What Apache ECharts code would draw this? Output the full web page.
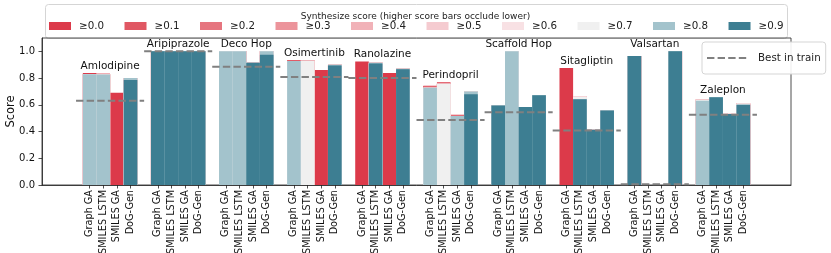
<!DOCTYPE html>
<html><head><meta charset="utf-8">
<script src="https://cdn.jsdelivr.net/npm/echarts@6/dist/echarts.min.js"></script>
<style>html,body{margin:0;padding:0;background:#fff}#c{width:831px;height:253px}</style>
</head><body><div id="c"></div>
<script>
// ---------- DATA ----------
const targets = ['Amlodipine','Aripiprazole','Deco Hop','Osimertinib','Ranolazine','Perindopril','Scaffold Hop','Sitagliptin','Valsartan','Zaleplon'];
const methods = ['Graph GA','SMILES LSTM','SMILES GA','DoG-Gen'];
const thresholdLabels = ['≥0.0','≥0.1','≥0.2','≥0.3','≥0.4','≥0.5','≥0.6','≥0.7','≥0.8','≥0.9'];
const bestInTrain = [0.63, 1.0, 0.885, 0.808, 0.80, 0.487, 0.545, 0.407, 0.005, 0.525];
// best score per bar (target-major, method order as above) for each synthesize-score threshold
const scoreGe00 = [.838,.832,.69,.80, 1,1,1,1, 1,1,.915,1, .933,.935,.86,.90, .925,.915,.838,.87, .743,.768,.525,.70, .594,1,.584,.672, .875,.666,.413,.557, .965,0,0,1, .638,.657,.537,.609];
const scoreGe01 = [.830,.832,0,.80, 1,1,1,1, 1,1,.915,1, .933,.930,0,.90, 0,.915,0,.87, .740,.758,.522,.70, .594,1,.584,.672, 0,.666,.413,.557, .965,0,0,1, .638,.657,.537,.609];
const scoreGe02 = [.828,.826,0,.80, 1,1,1,1, 1,1,.915,1, .928,.930,0,.90, 0,.915,0,.87, .737,.758,.522,.70, .594,1,.584,.672, 0,.666,.413,.557, .965,0,0,1, .638,.657,.537,.609];
const scoreGe03 = [.828,.826,0,.80, 1,1,1,1, 1,1,.915,1, .928,.930,0,.90, 0,.915,0,.87, .728,.758,.517,.70, .594,1,.584,.672, 0,.666,.413,.557, .965,0,0,1, .638,.657,.537,.609];
const scoreGe04 = [.828,.826,0,.80, 1,1,1,1, 1,1,.915,1, .928,.930,0,.90, 0,.915,0,.87, .728,.758,.517,.70, .594,1,.584,.672, 0,.666,.413,.557, .965,0,0,1, .638,.657,.537,.609];
const scoreGe05 = [.828,.826,0,.80, 1,1,1,1, 1,1,.915,1, .928,.930,0,.90, 0,.915,0,.87, .728,.758,.517,.70, .594,1,.584,.672, 0,.666,.413,.557, .965,0,0,1, .638,.657,.537,.609];
const scoreGe06 = [.828,.826,0,.80, 1,1,1,1, 1,1,.915,1, .928,.930,0,.90, 0,.915,0,.87, .728,.758,.517,.70, .594,1,.584,.672, 0,.662,.413,.557, .965,0,0,1, .638,.657,.537,.609];
const scoreGe07 = [.828,.826,0,.80, 1,1,1,1, 1,1,.915,1, .928,.930,0,.90, 0,.915,0,.87, .728,.758,.517,.70, .594,1,.584,.672, 0,.658,.413,.557, .965,0,0,1, .638,.657,.532,.609];
const scoreGe08 = [.828,.826,0,.80, 1,1,1,1, 1,1,.915,1, .928,0,0,.90, 0,.915,0,.87, .728,0,.517,.70, .594,1,.584,.672, 0,.642,.413,.557, .965,0,0,1, .631,.657,.532,.601];
const scoreGe09 = [0,0,0,.785, 1,1,1,1, 0,0,.915,.975, 0,0,0,.895, 0,.91,0,.866, 0,0,0,.68, .594,0,.584,.672, 0,.642,.413,.557, .965,0,0,1, 0,.657,.532,.601];
const scoresByThreshold = [scoreGe00,scoreGe01,scoreGe02,scoreGe03,scoreGe04,scoreGe05,scoreGe06,scoreGe07,scoreGe08,scoreGe09];

// ---------- STYLE ----------
const colors = ['#dc3a4a','#e05763','#e6757f','#ec949b','#f1b2b8','#f5cbd0','#f8e1e4','#f0f0f0','#a3c3cc','#3d7e92'];
const FONT = 'DejaVu Sans';
const PAD = 3, GAP = 1;
const nSlots = PAD*2 + targets.length*methods.length + (targets.length-1)*GAP;

// category slots
const cats = [];
const slotOf = [];
for (let i=0;i<PAD;i++) cats.push('');
targets.forEach((t,g)=>{
  methods.forEach((m,j)=>{ slotOf.push(cats.length); cats.push(m); });
  if (g < targets.length-1) for (let k=0;k<GAP;k++) cats.push('');
});
for (let i=0;i<PAD;i++) cats.push('');

const barSeries = scoresByThreshold.map((arr,ti)=>{
  const d = new Array(nSlots).fill(null);
  arr.forEach((v,k)=>{ d[slotOf[k]] = v; });
  return {
    type:'bar', name: thresholdLabels[ti], data:d, xAxisIndex:0, yAxisIndex:0,
    barWidth:'100%', barGap:'-100%', itemStyle:{color:colors[ti]},
    emphasis:{disabled:true}, animation:false
  };
});

// best-in-train dashed segments
const bestData = [];
bestInTrain.forEach((v,g)=>{
  const s0 = slotOf[g*methods.length], s1 = slotOf[g*methods.length+methods.length-1]+1;
  bestData.push([s0-0.5, v],[s1+0.5, v],[s1+0.5,'-']);
});

// target labels
const labelData = targets.map((t,g)=>{
  let mx = 0;
  for (let j=0;j<methods.length;j++) scoresByThreshold.forEach(a=>{ mx = Math.max(mx, a[g*methods.length+j]); });
  const s0 = slotOf[g*methods.length], s1 = slotOf[g*methods.length+methods.length-1]+1;
  return {value:[(s0+s1)/2, mx+0.01], name:t};
});

const yTicks = [0,0.2,0.4,0.6,0.8,1.0];

const chart = echarts.init(document.getElementById('c'), null, {renderer:'canvas'});
chart.setOption({
  animation:false,
  textStyle:{fontFamily:FONT},
  title:{text:'Synthesize score (higher score bars occlude lower)', left:'center', top:7,
    textStyle:{fontFamily:FONT, fontSize:9, fontWeight:'normal', color:'#222'}},
  graphic:[{type:'rect', z:-10, shape:{x:45.5, y:4.5, width:742, height:34, r:3},
    style:{fill:'#fff', stroke:'#d5d5d5', lineWidth:1}}],
  legend:[{
    data:thresholdLabels, left:49, top:21, padding:0, itemGap:20.5,
    itemWidth:22, itemHeight:8, icon:'rect',
    textStyle:{fontFamily:FONT, fontSize:10.3, color:'#222', padding:[0,0,0,3]},
    selectedMode:false
  },{
    data:['Best in train'], left:702, top:42, padding:[11,5,11,4],
    itemWidth:41, itemHeight:10, borderColor:'#d5d5d5', borderWidth:1, borderRadius:3,
    backgroundColor:'rgba(255,255,255,0.9)',
    itemStyle:{opacity:0},
    textStyle:{fontFamily:FONT, fontSize:10.3, color:'#222', padding:[8,0,0,5]},
    selectedMode:false
  }],
  grid:{left:42, right:40, top:38, bottom:68, show:true, borderColor:'#222', borderWidth:0.8,
    containLabel:false, outerBoundsMode:'none'},
  xAxis:[{
    type:'category', data:cats, boundaryGap:true,
    axisLine:{show:true, lineStyle:{color:'#222', width:0.8}},
    axisTick:{show:true, alignWithLabel:true, length:3.5, lineStyle:{color:'#222', width:0.8},
      interval:(i,v)=> v!==''},
    axisLabel:{interval:0, rotate:90, fontSize:9.7, color:'#111', margin:5, fontFamily:FONT},
    splitLine:{show:false}
  },{
    type:'value', min:0, max:nSlots, show:false
  }],
  yAxis:{
    type:'value', min:0, max:1.1,
    name:'Score', nameLocation:'middle', nameGap:25, nameMoveOverlap:false,
    nameTextStyle:{fontFamily:FONT, fontSize:11.5, color:'#111'},
    axisLine:{show:true, lineStyle:{color:'#222', width:0.8}},
    axisTick:{show:true, length:3.5, lineStyle:{color:'#222', width:0.8}, customValues:yTicks},
    axisLabel:{fontSize:10, color:'#111', margin:7, customValues:yTicks, formatter:v=>v.toFixed(1), fontFamily:FONT},
    splitLine:{show:false}
  },
  series:[
    ...barSeries,
    {type:'line', name:'Best in train', xAxisIndex:1, yAxisIndex:0, data:bestData,
      symbol:'none', connectNulls:false, z:5,
      lineStyle:{color:'#808080', width:2, type:[7.4,3.2]}, itemStyle:{color:'#808080'},
      emphasis:{disabled:true}},
    {type:'scatter', xAxisIndex:1, yAxisIndex:0, data:labelData, symbolSize:0, z:6,
      itemStyle:{opacity:1, color:'#111'},
      label:{show:true, position:'top', distance:0, formatter:p=>p.name,
        fontFamily:FONT, fontSize:10.5, color:'#111'},
      emphasis:{disabled:true}, silent:true}
  ]
});
</script></body></html>
